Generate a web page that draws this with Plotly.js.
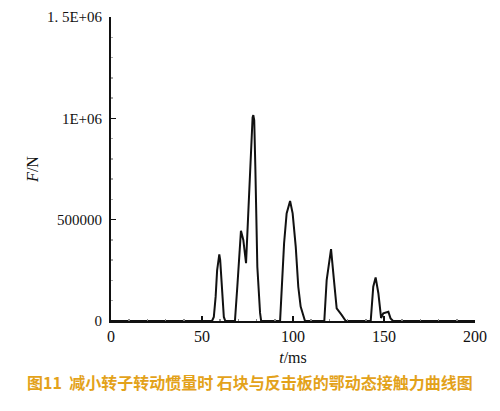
<!DOCTYPE html>
<html>
<head>
<meta charset="utf-8">
<script src="https://cdn.plot.ly/plotly-3.0.1.min.js"></script>
<style>
  body { margin: 0; background: #fff; }
  #chart { width: 500px; height: 411px; }
</style>
</head>
<body>
<div id="chart"></div>
<script>
// contact force curve (t in ms, F in N)
const timeMs = [
  0, 55.5, 56.5, 57.5, 58.3, 59.0, 59.5, 60.0, 60.7, 61.3, 62.0, 62.8,
  68.1, 69.4, 70.5, 71.4, 72.7, 74.2, 75.5, 76.8, 77.8, 78.2, 78.7, 79.3, 80.4, 81.9, 82.5,
  92.9, 93.8, 95.1, 96.5, 98.4, 99.8, 101.5, 102.9, 104.2, 106.6,
  117.2, 118.5, 120.9, 122.5, 124.0, 126.7, 129.0,
  142.7, 144.1, 145.4, 146.9, 148.4, 149.6, 152.4, 153.6, 155.0,
  200
];
const forceN = [
  0, 0, 20000, 120000, 250000, 320000, 329000, 300000, 200000, 90000, 20000, 0,
  0, 169000, 350000, 445000, 400000, 285000, 548000, 844000, 1005000, 1016000, 990000, 761000, 268000, 40000, 0,
  0, 169000, 383000, 531000, 592000, 531000, 367000, 169000, 71000, 0,
  0, 202000, 355000, 202000, 62000, 30000, 0,
  0, 169000, 215000, 137000, 15000, 38000, 46000, 13000, 0,
  0
];

const yTickVals = [0, 500000, 1000000, 1500000];
const yTickText = ["0", "500000", "1E+06", "1. 5E+06"];
const xTickVals = [0, 50, 100, 150, 200];

const caption = "图11  减小转子转动惯量时 石块与反击板的鄂动态接触力曲线图";

const serif = "Liberation Serif, DejaVu Serif, serif";

const trace = {
  x: timeMs,
  y: forceN,
  mode: "lines",
  type: "scatter",
  line: { color: "#111", width: 2 },
  hoverinfo: "skip",
};

const layout = {
  width: 500,
  height: 411,
  margin: { l: 111, r: 25, t: 17, b: 90 },
  paper_bgcolor: "#fff",
  plot_bgcolor: "#fff",
  showlegend: false,
  font: { family: serif, color: "#111", size: 15 },
  xaxis: {
    range: [0, 200],
    tickvals: xTickVals,
    ticks: "inside",
    ticklen: 5,
    tickwidth: 1.5,
    tickcolor: "#111",
    minor: { ticks: "inside", dtick: 10, ticklen: 2, tickcolor: "#888" },
    showgrid: false,
    zeroline: false,
    showline: true,
    linecolor: "#111",
    linewidth: 2,
    tickfont: { family: serif, size: 16 },
    title: { text: "<i>t</i>/ms", font: { family: serif, size: 16 }, standoff: 8 },
  },
  yaxis: {
    range: [0, 1500000],
    tickvals: yTickVals,
    ticktext: yTickText,
    ticks: "inside",
    ticklen: 5,
    tickwidth: 1.5,
    tickcolor: "#111",
    ticklabelstandoff: 4,
    minor: { ticks: "inside", dtick: 100000, ticklen: 2, tickcolor: "#aaa" },
    showgrid: false,
    zeroline: false,
    showline: true,
    linecolor: "#111",
    linewidth: 2,
    tickfont: { family: serif, size: 15 },
    title: { text: "<i>F</i>/N", font: { family: serif, size: 16 }, standoff: 4 },
  },
  annotations: [
    {
      text: caption,
      xref: "paper",
      yref: "paper",
      x: 0.382,
      y: -0.2,
      xanchor: "center",
      yanchor: "middle",
      showarrow: false,
      font: { family: "Noto Sans CJK SC, sans-serif", size: 16, color: "#e3a21a", weight: "bold" },
    },
  ],
};

Plotly.newPlot("chart", [trace], layout, { displayModeBar: false, staticPlot: true });
</script>
</body>
</html>
